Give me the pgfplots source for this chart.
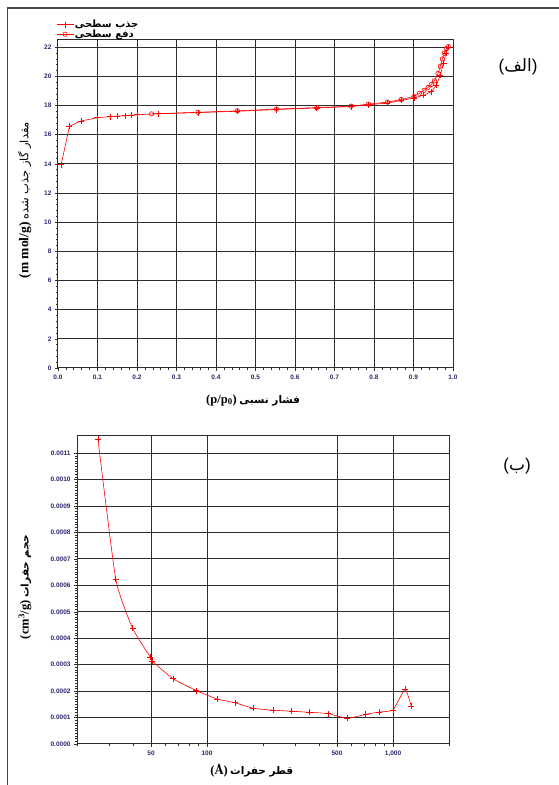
\documentclass[border=0pt]{standalone}
\usepackage{fontspec}
\setmainfont{Liberation Serif}
\newfontfamily\arabicfont[Script=Arabic]{DejaVu Sans}
\newfontfamily\tickfont{Liberation Sans}
\TeXXeTstate=1
\usepackage{pgfplots}
\pgfplotsset{compat=1.18}
\definecolor{tickcol}{RGB}{40,40,110}
\definecolor{gridcol}{RGB}{45,45,45}
\definecolor{framecol}{RGB}{70,70,70}

\pgfplotstableread{
x y
0.008 13.95
0.029 16.58
0.058 16.94
0.100 17.17
0.132 17.24
0.150 17.28
0.170 17.30
0.185 17.33
0.200 17.37
0.254 17.44
0.354 17.52
0.454 17.61
0.553 17.73
0.655 17.84
0.742 17.93
0.786 18.05
0.834 18.18
0.869 18.35
0.901 18.52
0.925 18.70
0.945 18.95
0.958 19.40
0.968 20.10
0.976 20.90
0.982 21.60
0.988 22.00
}\adsorption

\pgfplotstableread{
x y
0.988 22.05
0.983 21.90
0.978 21.60
0.973 21.20
0.968 20.70
0.962 20.20
0.953 19.70
0.945 19.45
0.937 19.25
0.927 19.05
0.915 18.85
0.901 18.62
0.869 18.42
0.834 18.24
0.786 18.10
0.742 17.96
0.655 17.86
0.553 17.76
0.454 17.64
0.354 17.54
0.237 17.43
}\desorption

\pgfplotstableread{
x y
25.9 0.001154
32.3 0.000624
39.8 0.000438
49.6 0.000328
50.6 0.000314
65.6 0.000247
87.7 0.000202
113.6 0.000170
141.4 0.000156
177 0.000135
226 0.000128
285 0.000124
353 0.000120
447 0.000115
568 0.0000973
713 0.000112
841 0.000121
1000 0.000129
1160 0.000207
1254 0.000143
}\poresize

\pgfplotsset{
  refaxis/.style={
    scale only axis,
    axis line style={gridcol, line width=1pt},
    grid=major,
    major grid style={gridcol, line width=1pt},
    tick align=outside,
    tick pos=left,
    major tick length=3pt,
    minor tick length=2pt,
    every tick/.style={gridcol, line width=0.6pt},
    tick label style={font=\tickfont\bfseries\fontsize{6.5}{7}\selectfont, text=tickcol},
    scaled ticks=false,
    clip marker paths=true,
  }
}

\begin{document}
\begin{tikzpicture}[x=1pt,y=1pt]
\useasboundingbox (0,0) rectangle (559,785);
\fill[white] (0,0) rectangle (559,785);
\draw[framecol, line width=1.5pt] (7.5,-5) -- (7.5,777) -- (565,777);

\begin{axis}[refaxis,
  at={(58pt,417pt)}, anchor=south west,
  width=395pt, height=328pt,
  xmin=0, xmax=1, ymin=0, ymax=22.5,
  xtick={0,0.1,0.2,0.3,0.4,0.5,0.6,0.7,0.8,0.9,1.0},
  xticklabels={0.0,0.1,0.2,0.3,0.4,0.5,0.6,0.7,0.8,0.9,1.0},
  ytick={0,2,4,6,8,10,12,14,16,18,20,22},
  yticklabels={0,2,4,6,8,10,12,14,16,18,20,22},
  minor x tick num=4, minor y tick num=4,
  xlabel={{\fontsize{12.5}{13}\selectfont\bfseries (p/p\textsubscript{0})} {\arabicfont\bfseries\fontsize{10.5}{12}\selectfont\beginR فشار نسبی\endR}},
  xlabel style={at={(axis description cs:0.494,-0.098)}, anchor=center},
  ylabel={{\fontsize{13.5}{14}\selectfont\bfseries (m mol/g)} {\arabicfont\fontsize{11.5}{13}\selectfont\beginR مقدار گاز جذب شده\endR}},
  ylabel style={at={(axis description cs:-0.084,0.512)}, anchor=center},
  legend style={at={(axis description cs:-0.005,1.0)}, anchor=south west, draw=none, fill=none,
    font=\arabicfont\bfseries\fontsize{10}{10}\selectfont, row sep=-1.5pt, inner sep=0pt,
    nodes={inner sep=1pt}},
  legend cell align=left,
]
\addplot[red, line width=0.6pt, mark=+, mark size=3pt, mark options={line width=0.6pt}] table[x=x,y=y] {\adsorption};
\addlegendentry{\beginR جذب سطحی\endR}
\addplot[red, line width=0.6pt, mark=o, mark size=2.2pt, mark options={line width=0.6pt}] table[x=x,y=y] {\desorption};
\addlegendentry{\beginR دفع سطحی\endR}
\end{axis}

\node[inner sep=0pt] at (518,718) {{\tickfont\fontsize{17}{18}\selectfont (}{\arabicfont\fontsize{17}{18}\selectfont\beginR الف\endR}{\tickfont\fontsize{17}{18}\selectfont )}};

\begin{axis}[refaxis,
  at={(77pt,41pt)}, anchor=south west,
  width=372pt, height=308pt,
  xmode=log, xmin=20, xmax=2000, ymin=0, ymax=0.001165,
  xtick={50,100,500,1000},
  xticklabels={50,100,500,{1,000}},
  minor xtick={20,30,40,60,70,80,90,200,300,400,600,700,800,900,2000},
  ytick={0,0.0001,0.0002,0.0003,0.0004,0.0005,0.0006,0.0007,0.0008,0.0009,0.0010,0.0011},
  yticklabels={0.0000,0.0001,0.0002,0.0003,0.0004,0.0005,0.0006,0.0007,0.0008,0.0009,0.0010,0.0011},
  minor y tick num=9,
  xlabel={{\fontsize{12.5}{13}\selectfont\bfseries (Å)} {\arabicfont\bfseries\fontsize{10.5}{12}\selectfont\beginR قطر حفرات\endR}},
  xlabel style={at={(axis description cs:0.47,-0.085)}, anchor=center},
  ylabel={{\fontsize{12.5}{13}\selectfont\bfseries (cm\textsuperscript{3}/g)} {\arabicfont\bfseries\fontsize{10.5}{12}\selectfont\beginR حجم حفرات\endR}},
  ylabel style={at={(axis description cs:-0.14,0.51)}, anchor=center},
]
\addplot[red, line width=0.6pt, smooth, tension=0.3, mark=+, mark size=3pt, mark options={line width=0.6pt}] table[x=x,y=y] {\poresize};
\end{axis}

\node[inner sep=0pt] at (517,319) {{\tickfont\fontsize{17}{18}\selectfont (}{\arabicfont\fontsize{17}{18}\selectfont\beginR ب\endR}{\tickfont\fontsize{17}{18}\selectfont )}};
\end{tikzpicture}
\end{document}
